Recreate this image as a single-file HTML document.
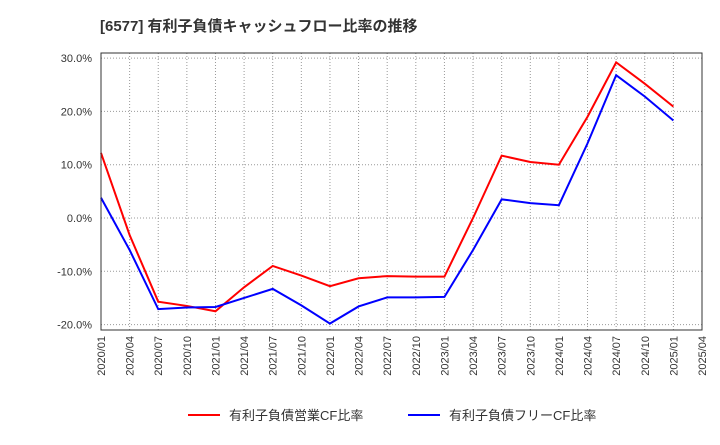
<!DOCTYPE html>
<html><head><meta charset="utf-8"><style>
body{margin:0;background:#fff;font-family:"Liberation Sans","Noto Sans CJK JP",sans-serif;}
</style></head><body>
<svg width="720" height="440" xmlns="http://www.w3.org/2000/svg" style="font-family:'Liberation Sans','Noto Sans CJK JP',sans-serif">
<text x="100" y="31" font-size="15" font-weight="bold" fill="#333">[6577]  有利子負債キャッシュフロー比率の推移</text>
<g id="grid"></g><g id="axes"></g><g id="series"></g>
<rect x="101" y="53" width="601" height="277" fill="none" stroke="#333" stroke-width="1"/>
<g>
<line x1="188" y1="415" x2="220" y2="415" stroke="#f00" stroke-width="2"/>
<text x="229" y="420" font-size="13" fill="#333">有利子負債営業CF比率</text>
<line x1="408" y1="415" x2="440" y2="415" stroke="#00f" stroke-width="2"/>
<text x="449" y="420" font-size="13" fill="#333">有利子負債フリーCF比率</text>
</g>
</svg>
<script>
const categories=["2020/01","2020/04","2020/07","2020/10","2021/01","2021/04","2021/07","2021/10","2022/01","2022/04","2022/07","2022/10","2023/01","2023/04","2023/07","2023/10","2024/01","2024/04","2024/07","2024/10","2025/01","2025/04"];
const operatingCF=[12.2,-3.2,-15.7,-16.5,-17.5,-13,-9,-10.8,-12.8,-11.3,-10.9,-11,-11,0,11.7,10.5,10,19,29.2,25.2,20.9];
const freeCF=[3.8,-6,-17.1,-16.8,-16.7,-15,-13.3,-16.4,-19.8,-16.6,-14.9,-14.9,-14.8,-6,3.5,2.8,2.4,14,26.8,22.8,18.3];
const yTicks=[30,20,10,0,-10,-20];
const NS="http://www.w3.org/2000/svg";
const x0=101,x1=702,step=(x1-x0)/(categories.length-1);
const xs=i=>x0+i*step;
const ys=v=>218-v*5.33;
function mk(t,a,p){const e=document.createElementNS(NS,t);for(const k in a)e.setAttribute(k,a[k]);p.appendChild(e);return e;}
const grid=document.getElementById('grid'),axes=document.getElementById('axes'),series=document.getElementById('series');
categories.forEach((c,i)=>{
 const g=mk('line',{x1:xs(i),x2:xs(i),y1:53,y2:330,stroke:'#999','stroke-dasharray':'1,2','stroke-width':1},grid);
 
 
 const t=mk('text',{x:0,y:0,'font-size':11,fill:'#333','text-anchor':'end',transform:`translate(${xs(i)+4},336) rotate(-90)`},axes);
 t.textContent=c;
 
 
});
yTicks.forEach(v=>{
 const g=mk('line',{x1:x0,x2:x1,y1:ys(v),y2:ys(v),stroke:'#999','stroke-dasharray':'1,2','stroke-width':1},grid);
 
 
 const t=mk('text',{x:92,y:ys(v)+4,'font-size':11,fill:'#333','text-anchor':'end'},axes);
 t.textContent=v.toFixed(1)+'%';
 
 
});
function line(data,color,name){
 const p=mk('polyline',{points:data.map((v,i)=>xs(i)+','+ys(v)).join(' '),fill:'none',stroke:color,'stroke-width':2},series);
 
 
}
line(operatingCF,'#f00','operating-cf-line');
line(freeCF,'#00f','free-cf-line');
</script>
</body></html>
